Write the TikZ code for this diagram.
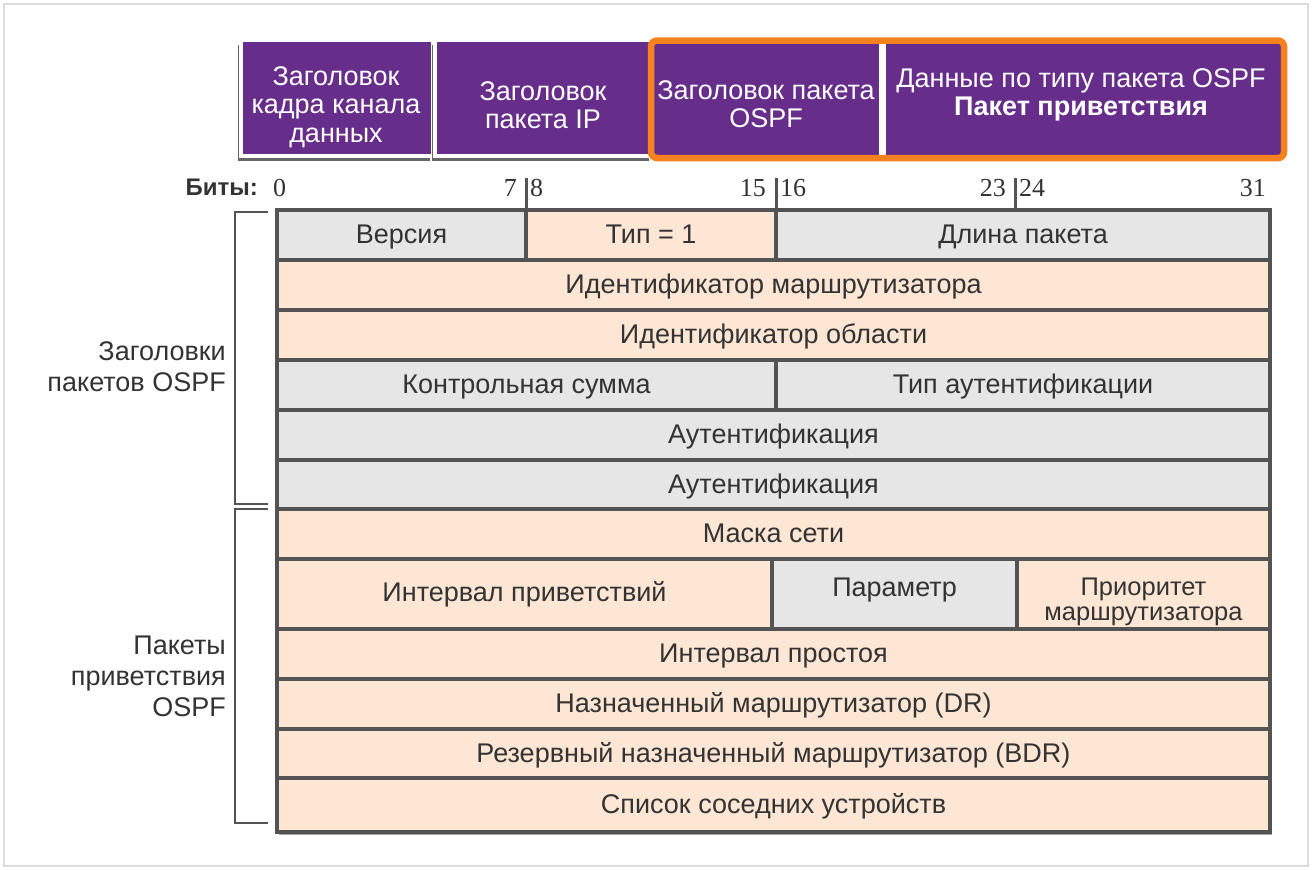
\documentclass[tikz,border=0pt]{standalone}
\usepackage{fontspec}
\setmainfont{Liberation Sans}
\newfontfamily\numfont{Liberation Serif}
\usetikzlibrary{shadows}
\definecolor{hpurple}{HTML}{662D8A}
\definecolor{horange}{HTML}{F5821F}
\definecolor{cgray}{HTML}{E7E6E7}
\definecolor{cpeach}{HTML}{FDE6D4}
\definecolor{tborder}{HTML}{535353}
\definecolor{ttext}{HTML}{333333}
\definecolor{frame}{HTML}{DCDCDC}
\begin{document}
\begin{tikzpicture}[x=1pt,y=-1pt,
  cell/.style={draw=tborder, line width=4pt, text=ttext, inner sep=0pt, align=center,
    text height=19pt, text depth=2pt,
    font=\fontsize{27}{29}\selectfont},
  gcell/.style={cell, fill=cgray},
  pcell/.style={cell, fill=cpeach},
  hbox/.style={fill=hpurple, inner sep=0pt},
  hlbl/.style={text=white, inner sep=0pt, align=center, font=\fontsize{27}{28.5}\selectfont},
  hshadow/.style={draw=white, line width=3.5pt,
    drop shadow={shadow xshift=-3pt, shadow yshift=-5pt, fill=black, opacity=0.6}},
  bitnum/.style={inner sep=0pt, text=ttext, font=\numfont\fontsize{26}{28}\selectfont},
  sidelbl/.style={inner sep=0pt, text=ttext, align=right, anchor=east,
    font=\fontsize{27}{31}\selectfont},
  lbl/.style={inner sep=0pt, text=ttext, align=center, font=\fontsize{27}{29}\selectfont},
  bracket/.style={draw=tborder, line width=2.5pt},
  tick/.style={draw=tborder, line width=3pt}
]
\useasboundingbox (0,0) rectangle (1312,870);
\draw[frame, line width=1.5pt] (4,4) rectangle (1308,866);

% header boxes
\node[hbox, hshadow, minimum width=192pt, minimum height=116pt] (hb1) at (337,98) {};
\node[hbox, hshadow, minimum width=217pt, minimum height=116pt] (hb2) at (543.5,98) {};
\node[hbox, minimum width=225pt, minimum height=111pt] (hb3) at (766.5,99.5) {};
\node[hbox, minimum width=395pt, minimum height=111pt] (hb4) at (1083.5,99.5) {};
\node[hlbl] (hb1t) at (336,107) {Заголовок\\кадра канала\\данных};
\node[hlbl] (hb2t) at (543,105) {Заголовок\\пакета IP};
\node[hlbl] (hb3t) at (766,104) {Заголовок пакета\\OSPF};
\node[hlbl] (hb4t) at (1081,95) {Данные по типу пакета OSPF\\\textbf{Пакет приветствия}};
\draw[horange, line width=6.5pt, rounded corners=6pt] (651,40.5) rectangle (1284,158);

% bits
\node[anchor=east, inner sep=0pt, text=ttext, font=\bfseries\fontsize{24}{26}\selectfont] (bits) at (258,187) {Биты:};
\node[bitnum, anchor=west] (b0) at (273,188) {0};
\node[bitnum, anchor=east] (b7) at (517,188) {7};
\node[bitnum, anchor=west] (b8) at (530,188) {8};
\node[bitnum, anchor=east] (b15) at (766,188) {15};
\node[bitnum, anchor=west] (b16) at (780,188) {16};
\node[bitnum, anchor=east] (b23) at (1006,188) {23};
\node[bitnum, anchor=west] (b24) at (1019,188) {24};
\node[bitnum, anchor=east] (b31) at (1266,188) {31};
\coordinate (t1) at (526,178); \coordinate (t1e) at (526,210);
\coordinate (t2) at (776,178); \coordinate (t2e) at (776,210);
\coordinate (t3) at (1015,178); \coordinate (t3e) at (1015,210);
\draw[tick] (t1) -- (t1e);
\draw[tick] (t2) -- (t2e);
\draw[tick] (t3) -- (t3e);

% table shadow
\fill[black, opacity=0.35] (279,214) rectangle (1272,835);

% rows
\node[gcell, minimum width=249pt, minimum height=50pt] (ver) at (401.5,235) {Версия};
\node[pcell, minimum width=250pt, minimum height=50pt] (type) at (651,235) {Тип = 1};
\node[gcell, minimum width=494pt, minimum height=50pt] (len) at (1023,235) {Длина пакета};
\node[pcell, minimum width=993pt, minimum height=50pt] (rid) at (773.5,285) {Идентификатор маршрутизатора};
\node[pcell, minimum width=993pt, minimum height=50pt] (aid) at (773.5,335) {Идентификатор области};
\node[gcell, minimum width=499pt, minimum height=50pt] (cks) at (526.5,385) {Контрольная сумма};
\node[gcell, minimum width=494pt, minimum height=50pt] (aut) at (1023,385) {Тип аутентификации};
\node[gcell, minimum width=993pt, minimum height=50pt] (au1) at (773.5,435) {Аутентификация};
\node[gcell, minimum width=993pt, minimum height=49pt] (au2) at (773.5,484.5) {Аутентификация};
\node[pcell, minimum width=993pt, minimum height=50pt] (mask) at (773.5,534) {Маска сети};
\node[pcell, minimum width=495pt, minimum height=70pt] (hint) at (524.5,594) {};
\node[gcell, minimum width=245pt, minimum height=70pt] (opt) at (894.5,594) {};
\node[pcell, minimum width=253pt, minimum height=70pt] (prio) at (1143.5,594) {};
\node[lbl] (hintt) at (524.5,594.5) {Интервал приветствий};
\node[lbl] (optt) at (894.5,590) {Параметр};
\node[lbl, font=\fontsize{25.5}{25}\selectfont] (priot) at (1143.5,602) {Приоритет\\маршрутизатора};
\node[pcell, minimum width=993pt, minimum height=50pt] (dead) at (773.5,654) {Интервал простоя};
\node[pcell, minimum width=993pt, minimum height=50pt] (dr) at (773.5,704) {Назначенный маршрутизатор (DR)};
\node[pcell, minimum width=993pt, minimum height=49pt] (bdr) at (773.5,753.5) {Резервный назначенный маршрутизатор (BDR)};
\node[pcell, minimum width=993pt, minimum height=54pt] (nbr) at (773.5,805) {Список соседних устройств};

% brackets
\coordinate (k1a) at (268,212); \coordinate (k1b) at (235,212);
\coordinate (k1c) at (235,504); \coordinate (k1d) at (268,504);
\coordinate (k2a) at (268,509); \coordinate (k2b) at (235,509);
\coordinate (k2c) at (235,823); \coordinate (k2d) at (268,823);
\draw[bracket] (k1a) -- (k1b) -- (k1c) -- (k1d);
\draw[bracket] (k2a) -- (k2b) -- (k2c) -- (k2d);
\node[sidelbl] (lhdr) at (226,367) {Заголовки\\пакетов OSPF};
\node[sidelbl] (lhello) at (226,676) {Пакеты\\приветствия\\OSPF};
\end{tikzpicture}
\end{document}
